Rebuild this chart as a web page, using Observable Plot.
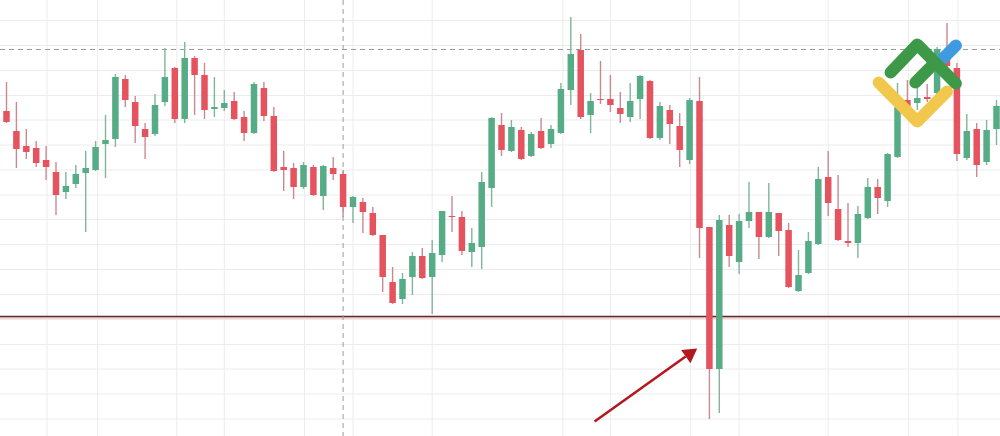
<!DOCTYPE html>
<html><head><meta charset="utf-8">
<script src="https://cdn.jsdelivr.net/npm/d3@7"></script>
<script src="https://cdn.jsdelivr.net/npm/@observablehq/plot@0.6"></script>
<style>html,body{margin:0;padding:0;background:#fff;overflow:hidden}#chart svg{display:block}</style>
</head><body><div id="chart"></div>
<script>
// OHLC prices (chart units), one value per session, left to right
const opens = [325,305,290,288,276,264,244,252,263,266,
 292,297,357,334,307,302,334,368,317,378,
 361,327,328,335,319,303,348,320,269,268,
 249,269,240,268,262,229,234,223,201,154,
 137,159,180,159,181,220,219,184,189,248,
 311,285,306,280,305,292,303,346,386,321,
 337,337,328,319,337,355,298,326,310,276,
 335,209,67,211,174,215,224,199,223,206,
 145,163,192,259,227,195,193,218,249,235,
 279,336,333,339,343,384,368,278,307,274,
 307];
const highs = [354,334,307,295,290,274,264,271,285,295,
 321,362,361,340,313,342,388,369,394,380,
 373,359,346,344,325,354,354,329,285,273,
 274,271,271,279,266,240,238,229,201,169,
 163,184,188,196,225,240,225,208,264,319,
 323,316,309,304,318,311,353,419,402,343,
 375,361,344,353,361,356,334,331,323,338,
 359,209,221,221,222,254,224,253,223,213,
 186,204,269,285,261,233,230,258,257,283,
 353,356,354,352,389,413,373,322,313,316,
 336];
const lows = [313,268,277,269,256,221,237,248,204,265,
 258,289,329,293,277,300,330,313,313,321,
 317,319,325,316,295,302,315,264,245,237,
 247,240,226,256,219,213,203,200,144,132,
 132,141,157,122,174,204,181,169,167,229,
 280,284,276,279,287,288,302,331,317,303,
 332,324,313,314,317,297,296,292,269,272,
 178,17,23,169,162,208,177,198,180,148,
 144,162,191,220,195,189,178,217,222,229,
 278,324,326,334,340,364,275,276,259,271,
 291];
const closes = [314,287,284,273,269,241,250,262,268,289,
 296,359,336,310,299,331,359,317,378,361,
 326,329,333,317,303,352,320,265,266,249,
 271,241,270,262,229,239,224,201,159,133,
 157,180,158,183,225,219,185,193,254,318,
 286,309,277,302,288,307,347,382,319,335,
 336,331,322,335,360,298,330,312,286,336,
 208,67,216,180,215,224,199,224,205,149,
 161,195,257,233,196,193,222,249,238,282,
 329,330,338,337,387,370,282,305,271,306,
 330];

// reference levels and grid
const supportLevel = 120;
const dashedLevel = 387;
const cursorSession = 34;
const gridSessions = [4.1, 9.2, 17.2, 22, 30.1, 35, 43, 56.2, 61, 69.1, 74, 83, 91.1, 96.1];
const gridPrices = [416, 391, 366, 341, 316.5, 291.5, 266.5, 241.5, 217, 192, 167, 142, 117, 92, 67.5, 42.5, 17.5];

// annotation arrow (session, price)
const arrowFrom = [59.4, 15];
const arrowShaftEnd = [68.6, 80];
const arrowHead = [69.0, 82.5];
const arrowHeadAngle = 54.6;

// watermark logo strokes (session, price)
const logoGreenOuter = [[89.3, 364], [92.0, 392], [95.9, 353]];
const logoGreenInner = [[91.8, 354], [93.4, 370]];
const logoYellow = [[88.1, 354], [92.0, 315], [95.0, 345]];
const logoBlue = [[94.6, 378], [95.9, 391]];

const upBody = "#56ac86", downBody = "#e5535e";
const upWick = "#7fb59b", downWick = "#c98990";

const candles = opens.map((o, i) => ({i, o, h: highs[i], l: lows[i], c: closes[i], up: closes[i] >= o}));
const pts = a => a.map(([x, y]) => ({x, y}));
const logoStyle = {x: "x", y: "y", strokeWidth: 12, strokeLinecap: "round", strokeLinejoin: "round"};

const chart = Plot.plot({
  width: 1000, height: 436,
  marginTop: 0, marginRight: 0, marginBottom: 0, marginLeft: 0,
  x: {domain: [0, 100], range: [6, 996], axis: null},
  y: {domain: [0, 436], range: [436, 0], axis: null},
  color: {type: "identity"},
  style: {background: "#ffffff", overflow: "hidden"},
  marks: [
    Plot.ruleX(gridSessions, {stroke: "#ececec", strokeWidth: 1}),
    Plot.ruleY(gridPrices, {stroke: "#ececec", strokeWidth: 1}),
    Plot.ruleY([supportLevel], {dy: 1.5, stroke: "#f8d2d2", strokeWidth: 2}),
    Plot.ruleY([supportLevel], {stroke: "#5c2a2a", strokeWidth: 1.3}),
    Plot.ruleY([dashedLevel], {stroke: "#9a9a9a", strokeWidth: 1, strokeDasharray: "5,4"}),
    Plot.ruleX([cursorSession], {stroke: "#9a9a9a", strokeWidth: 1, strokeDasharray: "5,4"}),
    Plot.ruleX(candles, {x: "i", y1: "l", y2: "h", stroke: d => d.up ? upWick : downWick, strokeWidth: 1.4}),
    Plot.ruleX(candles, {x: "i", y1: "o", y2: "c", stroke: d => d.up ? upBody : downBody, strokeWidth: 6.5}),
    Plot.link([{x1: arrowFrom[0], y1: arrowFrom[1], x2: arrowShaftEnd[0], y2: arrowShaftEnd[1]}],
      {x1: "x1", y1: "y1", x2: "x2", y2: "y2", stroke: "#b3161c", strokeWidth: 2.5}),
    Plot.dot([{x: arrowHead[0], y: arrowHead[1]}],
      {x: "x", y: "y", symbol: "triangle", r: 6, fill: "#b3161c", stroke: "none", rotate: arrowHeadAngle}),
    Plot.line(pts(logoYellow), {...logoStyle, stroke: "#f1c84b"}),
    Plot.line(pts(logoBlue), {...logoStyle, stroke: "#3f9be0"}),
    Plot.line(pts(logoGreenOuter), {...logoStyle, stroke: "#3d9947"}),
    Plot.line(pts(logoGreenInner), {...logoStyle, stroke: "#3d9947"})
  ]
});
document.getElementById("chart").appendChild(chart);
</script>
</body></html>
